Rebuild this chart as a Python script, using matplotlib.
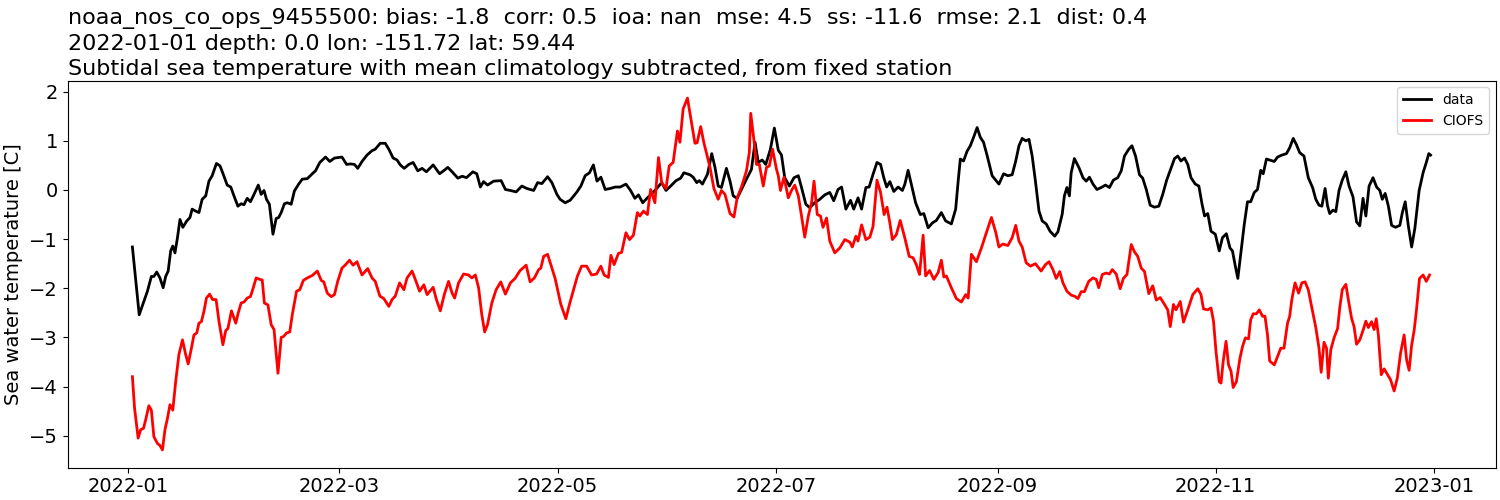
import numpy as np
import pandas as pd
import matplotlib
matplotlib.use("Agg")
import matplotlib.pyplot as plt
import matplotlib.dates as mdates

# days since 2022-01-01 and anomaly values [C]
data_day = [1.1, 3.0, 4.3, 5.3, 6.4, 7.1, 7.9, 8.8, 9.7, 10.4, 11.1, 11.8, 12.4, 13.0, 13.7, 14.4,
            15.2, 16.3, 17.2, 17.8, 18.8, 19.7, 20.6, 21.6, 22.5, 23.4, 24.6, 25.6, 26.5, 27.6, 28.6,
            29.5, 30.6, 31.5, 32.3, 33.2, 34.1, 35.1, 36.3, 37.1, 37.9, 38.6, 39.4, 40.4, 41.3, 42.0,
            42.7, 43.6, 44.4, 45.5, 46.4, 47.6, 48.6, 50.0, 51.4, 52.3, 53.5, 55.1, 56.3, 57.6, 59.7,
            61.0, 62.1, 63.2, 64.1, 65.3, 66.7, 68.1, 69.0, 70.4, 71.8, 72.8, 74.0, 75.1, 76.0, 77.1,
            78.4, 79.6, 80.9, 82.1, 83.3, 85.2, 87.0, 88.1, 89.3, 90.5, 92.1, 93.3, 94.5, 96.3, 97.4,
            98.4, 99.3, 100.4, 102.1, 104.2, 105.4, 106.8, 108.4, 110.0, 111.4, 113.3, 114.4, 115.6,
            117.2, 118.4, 119.8, 120.7, 122.1, 123.5, 125.3, 126.5, 127.7, 128.9, 130.0, 131.0, 132.1,
            133.3, 134.7, 136.1, 137.5, 139.1, 140.4, 141.6, 142.6, 143.8, 145.1, 146.3, 147.7, 149.1,
            150.3, 151.6, 153.1, 154.4, 155.3, 157.0, 157.9, 158.9, 159.6, 160.5, 161.9, 163.1, 164.0,
            164.9, 165.8, 167.2, 168.2, 169.1, 170.2, 171.4, 172.8, 174.2, 175.2, 176.1, 177.2, 178.2,
            179.5, 180.6, 181.7, 182.6, 183.5, 184.8, 186.1, 187.3, 188.2, 189.4, 190.5, 191.9, 193.3,
            194.7, 196.1, 197.2, 198.4, 199.4, 200.6, 201.9, 202.8, 204.0, 205.0, 206.2, 207.1, 208.2,
            209.3, 210.3, 211.2, 212.0, 212.9, 214.0, 215.2, 216.4, 217.1, 218.0, 218.9, 220.1, 221.4,
            222.4, 223.6, 224.8, 225.9, 227.3, 228.5, 230.1, 231.3, 232.0, 232.6, 233.5, 234.5, 235.4,
            236.3, 237.3, 238.2, 239.1, 240.1, 241.5, 242.5, 243.4, 244.7, 245.9, 247.1, 248.1, 249.0,
            249.9, 250.9, 251.8, 252.7, 253.6, 254.6, 255.5, 256.6, 257.7, 259.0, 259.9, 261.1, 261.7,
            262.4, 263.1, 263.6, 264.5, 265.8, 266.9, 267.8, 268.7, 269.7, 270.8, 272.0, 273.2, 274.3,
            275.4, 276.6, 277.6, 278.5, 279.7, 280.6, 281.6, 282.7, 283.6, 284.6, 285.7, 286.9, 288.1,
            289.2, 290.3, 291.5, 292.5, 293.4, 294.3, 295.3, 296.2, 297.1, 298.3, 299.3, 300.2, 300.9,
            301.8, 302.7, 303.9, 305.0, 305.9, 307.0, 308.0, 308.7, 309.5, 310.2, 311.0, 312.0, 312.9,
            313.8, 314.8, 315.7, 316.6, 317.3, 318.2, 319.1, 320.4, 321.3, 322.5, 323.8, 324.7, 325.7,
            326.6, 327.5, 328.7, 329.9, 331.1, 332.0, 332.9, 333.7, 334.6, 335.3, 335.9, 336.8, 337.6,
            338.5, 339.4, 340.4, 341.3, 342.4, 343.4, 344.3, 345.2, 346.0, 346.9, 348.0, 349.0, 349.9,
            350.6, 351.4, 352.3, 353.2, 354.3, 355.5, 356.2, 357.0, 357.9, 358.8, 359.7, 360.9, 362.0,
            362.9, 363.6, 364.1]
data_val = [-1.16, -2.54, -2.27, -2.06, -1.76, -1.76, -1.67, -1.79, -1.99, -1.76, -1.65, -1.24, -1.14,
            -1.28, -0.97, -0.60, -0.76, -0.63, -0.56, -0.39, -0.43, -0.46, -0.19, -0.12, 0.18, 0.29,
            0.54, 0.49, 0.32, 0.10, 0.06, -0.12, -0.33, -0.28, -0.30, -0.17, -0.24, -0.09, 0.10, -0.09,
            -0.01, -0.19, -0.29, -0.90, -0.58, -0.56, -0.46, -0.28, -0.26, -0.29, -0.02, 0.12, 0.22,
            0.23, 0.33, 0.39, 0.56, 0.67, 0.58, 0.65, 0.67, 0.52, 0.53, 0.52, 0.44, 0.58, 0.71, 0.80,
            0.83, 0.95, 0.95, 0.83, 0.65, 0.61, 0.51, 0.44, 0.52, 0.56, 0.39, 0.44, 0.37, 0.51, 0.33,
            0.39, 0.46, 0.37, 0.24, 0.28, 0.25, 0.37, 0.33, 0.06, 0.17, 0.10, 0.18, 0.19, 0.01, -0.01,
            -0.04, 0.08, 0.03, -0.01, 0.15, 0.13, 0.27, 0.15, -0.09, -0.19, -0.26, -0.21, -0.05, 0.08,
            0.29, 0.35, 0.51, 0.18, 0.26, 0.01, 0.03, 0.06, 0.06, 0.12, -0.01, -0.17, -0.10, -0.26,
            -0.16, -0.08, 0.03, 0.15, -0.01, 0.08, 0.19, 0.24, 0.35, 0.31, 0.26, 0.15, 0.19, 0.12,
            0.32, 0.74, 0.46, 0.08, 0.05, 0.44, 0.18, -0.12, -0.17, 0.01, 0.22, 0.42, 0.97, 0.56, 0.61,
            0.52, 0.83, 1.26, 0.81, 0.71, 0.25, 0.08, 0.25, 0.29, 0.05, -0.29, -0.36, -0.26, -0.19,
            -0.10, -0.05, -0.22, 0.01, 0.06, -0.39, -0.21, -0.39, -0.16, -0.39, 0.05, 0.06, 0.32, 0.56,
            0.52, 0.25, 0.06, 0.17, -0.03, 0.06, -0.01, 0.12, 0.40, 0.12, -0.26, -0.50, -0.48, -0.77,
            -0.67, -0.62, -0.46, -0.63, -0.69, -0.39, 0.18, 0.63, 0.59, 0.79, 0.90, 1.07, 1.27, 1.07,
            0.97, 0.70, 0.29, 0.20, 0.12, 0.33, 0.29, 0.31, 0.59, 0.90, 1.05, 1.00, 1.03, 0.69, 0.18,
            -0.43, -0.63, -0.69, -0.84, -0.94, -0.85, -0.49, -0.12, 0.05, -0.12, 0.35, 0.64, 0.45,
            0.25, 0.18, 0.26, 0.12, 0.01, 0.05, 0.10, 0.05, 0.20, 0.25, 0.39, 0.69, 0.83, 0.90, 0.69,
            0.31, 0.24, 0.01, -0.31, -0.35, -0.33, -0.09, 0.20, 0.44, 0.64, 0.69, 0.59, 0.65, 0.52,
            0.25, 0.12, 0.08, -0.29, -0.53, -0.48, -0.84, -0.90, -1.24, -0.97, -0.89, -1.18, -1.24,
            -1.55, -1.80, -1.31, -0.70, -0.24, -0.24, -0.05, 0.01, 0.40, 0.33, 0.63, 0.61, 0.58, 0.67,
            0.71, 0.74, 0.86, 1.05, 0.92, 0.76, 0.69, 0.25, 0.05, -0.19, -0.31, -0.33, 0.03, -0.33,
            -0.48, -0.41, -0.44, -0.01, 0.20, 0.37, 0.08, -0.14, -0.65, -0.73, -0.17, -0.53, 0.08,
            0.25, 0.06, -0.01, -0.19, -0.07, -0.33, -0.72, -0.76, -0.72, -0.46, -0.24, -0.74, -1.16,
            -0.78, -0.01, 0.35, 0.56, 0.74, 0.71]

model_day = [1.1, 1.7, 2.7, 3.4, 4.2, 4.8, 5.7, 6.4, 7.1, 8.1, 8.8, 9.5, 10.2, 10.9, 11.6, 12.4, 13.2,
             14.1, 15.1, 16.0, 16.7, 17.6, 18.3, 19.1, 19.7, 20.4, 21.1, 21.8, 22.7, 23.5, 24.5, 25.3,
             26.4, 27.2, 27.8, 28.8, 30.0, 30.7, 31.5, 32.3, 33.2, 34.1, 34.9, 35.7, 36.7, 37.4, 38.0,
             39.0, 39.9, 40.7, 41.8, 42.7, 43.4, 44.2, 45.1, 45.8, 47.0, 47.9, 48.9, 50.0, 51.4, 52.8,
             53.9, 54.6, 55.6, 56.7, 57.6, 58.5, 59.7, 60.7, 61.8, 62.8, 63.9, 65.3, 66.9, 68.1, 69.0,
             70.3, 71.4, 72.8, 73.7, 74.6, 75.8, 77.0, 77.9, 79.3, 80.2, 81.4, 82.6, 83.5, 85.2, 86.1,
             87.2, 88.3, 89.5, 90.5, 91.2, 92.3, 93.7, 95.1, 96.0, 97.0, 97.9, 98.8, 99.6, 100.4, 101.6,
             102.8, 104.1, 105.4, 106.8, 108.1, 109.5, 111.2, 112.3, 113.5, 114.7, 115.3, 116.1, 117.2,
             118.4, 119.3, 120.0, 120.9, 122.3, 123.3, 124.2, 125.5, 126.7, 128.1, 129.5, 130.9, 132.1,
             133.0, 134.2, 134.9, 135.8, 137.0, 137.9, 139.1, 140.1, 141.2, 142.3, 143.0, 144.0, 145.1,
             146.0, 147.2, 148.2, 149.1, 150.3, 151.2, 152.3, 153.5, 154.2, 155.1, 156.3, 157.2, 158.4,
             159.0, 160.0, 160.9, 161.7, 162.6, 163.7, 164.9, 165.8, 166.8, 168.2, 169.3, 170.2, 171.4,
             172.8, 173.6, 174.0, 174.9, 175.6, 176.4, 177.5, 178.4, 179.2, 180.1, 181.2, 181.7, 182.3,
             183.3, 184.5, 185.4, 186.3, 187.3, 188.2, 189.1, 190.1, 191.0, 191.7, 192.6, 193.5, 194.2,
             195.2, 196.1, 197.5, 198.9, 200.3, 201.7, 202.4, 203.4, 204.0, 205.0, 206.2, 207.3, 208.2,
             209.3, 210.3, 211.3, 212.1, 212.9, 213.6, 214.7, 215.8, 217.1, 218.3, 219.4, 220.3, 221.2,
             222.2, 222.9, 224.0, 225.2, 226.4, 227.3, 228.0, 228.7, 230.1, 231.5, 232.9, 234.1, 234.8,
             235.7, 237.1, 238.5, 239.7, 241.3, 242.5, 243.4, 244.5, 245.9, 247.1, 248.1, 249.0, 249.9,
             251.0, 252.2, 253.6, 255.2, 256.4, 257.4, 258.5, 259.4, 260.4, 261.3, 262.4, 263.6, 264.5,
             265.5, 266.4, 267.3, 268.5, 269.7, 270.6, 271.3, 272.3, 273.4, 274.3, 275.1, 276.2, 277.3,
             278.2, 279.2, 280.4, 281.3, 282.2, 283.2, 284.1, 285.3, 286.4, 287.4, 288.5, 289.7, 290.6,
             291.3, 292.2, 292.9, 294.1, 295.0, 296.2, 297.6, 299.0, 299.9, 300.6, 301.8, 302.7, 303.4,
             304.1, 305.0, 305.5, 306.1, 306.9, 307.6, 308.3, 308.9, 309.8, 310.8, 311.5, 312.3, 313.2,
             313.8, 314.5, 315.4, 316.2, 317.1, 317.8, 318.5, 319.1, 320.4, 321.3, 322.2, 323.1, 324.1,
             324.7, 325.3, 326.2, 327.2, 328.1, 329.0, 329.9, 330.9, 332.0, 332.9, 333.5, 334.3, 335.0,
             335.5, 336.2, 337.1, 338.1, 338.7, 339.4, 340.4, 341.1, 342.0, 342.7, 343.4, 344.3, 345.2,
             346.0, 346.7, 347.6, 348.3, 348.9, 349.5, 350.3, 351.1, 352.0, 352.9, 353.9, 354.8, 355.7,
             356.7, 357.4, 358.1, 358.8, 359.5, 360.1, 361.0, 362.0, 362.9, 363.8]
model_val = [-3.80, -4.44, -5.05, -4.88, -4.85, -4.68, -4.39, -4.48, -5.02, -5.16, -5.20, -5.29, -4.88,
             -4.65, -4.37, -4.48, -3.90, -3.35, -3.05, -3.35, -3.54, -3.22, -2.95, -2.91, -2.71, -2.68,
             -2.47, -2.20, -2.12, -2.23, -2.23, -2.67, -3.15, -2.86, -2.82, -2.46, -2.71, -2.50, -2.30,
             -2.28, -2.20, -2.17, -1.99, -1.79, -1.82, -1.83, -2.30, -2.34, -2.74, -2.84, -3.73, -3.00,
             -2.98, -2.91, -2.89, -2.54, -2.06, -2.03, -1.84, -1.79, -1.74, -1.65, -1.84, -1.87, -2.10,
             -2.17, -2.13, -1.86, -1.59, -1.52, -1.43, -1.53, -1.46, -1.73, -1.60, -1.79, -1.86, -2.16,
             -2.21, -2.37, -2.23, -2.16, -1.89, -2.03, -1.79, -1.65, -1.82, -2.06, -1.93, -2.13, -1.98,
             -2.23, -2.46, -2.13, -1.86, -2.10, -2.20, -1.89, -1.71, -1.73, -1.79, -1.73, -1.99, -2.54,
             -2.89, -2.74, -2.30, -2.03, -1.87, -2.12, -1.89, -1.80, -1.64, -1.53, -1.87, -1.79, -1.62,
             -1.59, -1.35, -1.31, -1.59, -1.80, -2.03, -2.33, -2.62, -2.33, -2.10, -1.76, -1.55, -1.55,
             -1.73, -1.71, -1.55, -1.73, -1.78, -1.33, -1.52, -1.29, -1.27, -0.87, -1.01, -0.92, -0.46,
             -0.53, -0.43, -0.50, 0.01, -0.26, 0.66, 0.15, 0.03, 0.49, 0.56, 1.20, 0.97, 1.65, 1.87, 1.48,
             0.95, 0.96, 1.29, 0.96, 0.73, 0.46, 0.03, -0.19, -0.01, -0.09, -0.48, -0.55, -0.16, 0.06,
             0.39, 0.76, 1.56, 1.01, 0.52, 0.52, 0.08, 0.46, 0.49, 0.83, 0.42, 0.29, -0.01, 0.26, -0.16,
             -0.01, 0.10, -0.12, -0.53, -0.96, -0.53, -0.26, 0.18, -0.50, -0.53, -0.76, -0.57, -1.04,
             -1.28, -1.18, -1.01, -1.06, -1.16, -0.94, -1.04, -0.71, -1.01, -0.96, -0.74, 0.20, -0.05,
             -0.50, -0.35, -0.67, -1.01, -0.91, -0.62, -0.98, -1.35, -1.38, -1.52, -1.72, -0.92, -1.75,
             -1.64, -1.82, -1.68, -1.43, -1.77, -1.75, -1.99, -2.21, -2.28, -2.13, -2.20, -1.31, -1.46,
             -1.18, -0.91, -0.56, -0.86, -1.16, -1.10, -1.13, -0.97, -0.72, -1.04, -1.16, -1.48, -1.55,
             -1.50, -1.65, -1.52, -1.46, -1.62, -1.80, -1.66, -1.89, -2.06, -2.14, -2.16, -2.21, -2.07,
             -2.07, -1.86, -1.79, -1.82, -1.99, -1.72, -1.69, -1.71, -1.62, -1.71, -2.01, -1.80, -1.72,
             -1.11, -1.26, -1.35, -1.59, -1.66, -2.11, -1.95, -2.24, -2.19, -2.33, -2.44, -2.78, -2.33,
             -2.44, -2.27, -2.69, -2.44, -2.13, -2.01, -2.13, -2.42, -2.44, -2.40, -2.67, -3.29, -3.90,
             -3.93, -3.49, -3.08, -3.56, -3.69, -4.02, -3.90, -3.42, -3.19, -3.01, -3.03, -2.64, -2.52,
             -2.52, -2.44, -2.57, -2.57, -2.95, -3.48, -3.56, -3.39, -3.22, -3.22, -2.71, -2.57, -2.23,
             -1.89, -2.10, -1.89, -1.87, -2.03, -2.40, -2.80, -3.22, -3.71, -3.10, -3.22, -3.83, -3.25,
             -3.01, -2.82, -2.40, -2.03, -1.92, -2.23, -2.61, -2.78, -3.14, -3.05, -2.86, -2.67, -2.80,
             -2.68, -2.84, -2.62, -2.95, -3.76, -3.64, -3.75, -3.86, -4.09, -3.83, -3.32, -2.95, -3.46,
             -3.67, -3.16, -2.86, -2.48, -1.80, -1.73, -1.86, -1.73]

title = ("noaa_nos_co_ops_9455500: bias: -1.8  corr: 0.5  ioa: nan  mse: 4.5  ss: -11.6  rmse: 2.1  dist: 0.4\n"
         "2022-01-01 depth: 0.0 lon: -151.72 lat: 59.44\n"
         "Subtidal sea temperature with mean climatology subtracted, from fixed station")

start = pd.Timestamp("2022-01-01")
t_data = start + pd.to_timedelta(np.array(data_day), unit="D")
t_model = start + pd.to_timedelta(np.array(model_day), unit="D")

fig, ax = plt.subplots(figsize=(15, 5), dpi=100)
fig.subplots_adjust(left=0.045, right=0.997, top=0.839, bottom=0.065)

ax.plot(t_data, data_val, color="k", lw=2, label="data")
ax.plot(t_model, model_val, color="r", lw=2, label="CIOFS")

ax.xaxis.set_major_locator(mdates.MonthLocator(bymonth=[1, 3, 5, 7, 9, 11]))
ax.xaxis.set_major_formatter(mdates.DateFormatter("%Y-%m"))
ax.tick_params(labelsize=14)
ax.set_ylabel("Sea water temperature [C]", fontsize=14)
ax.set_title(title, loc="left", fontsize=16, linespacing=1.3, pad=4)
ax.legend(loc="upper right")

plt.savefig("out.png")
